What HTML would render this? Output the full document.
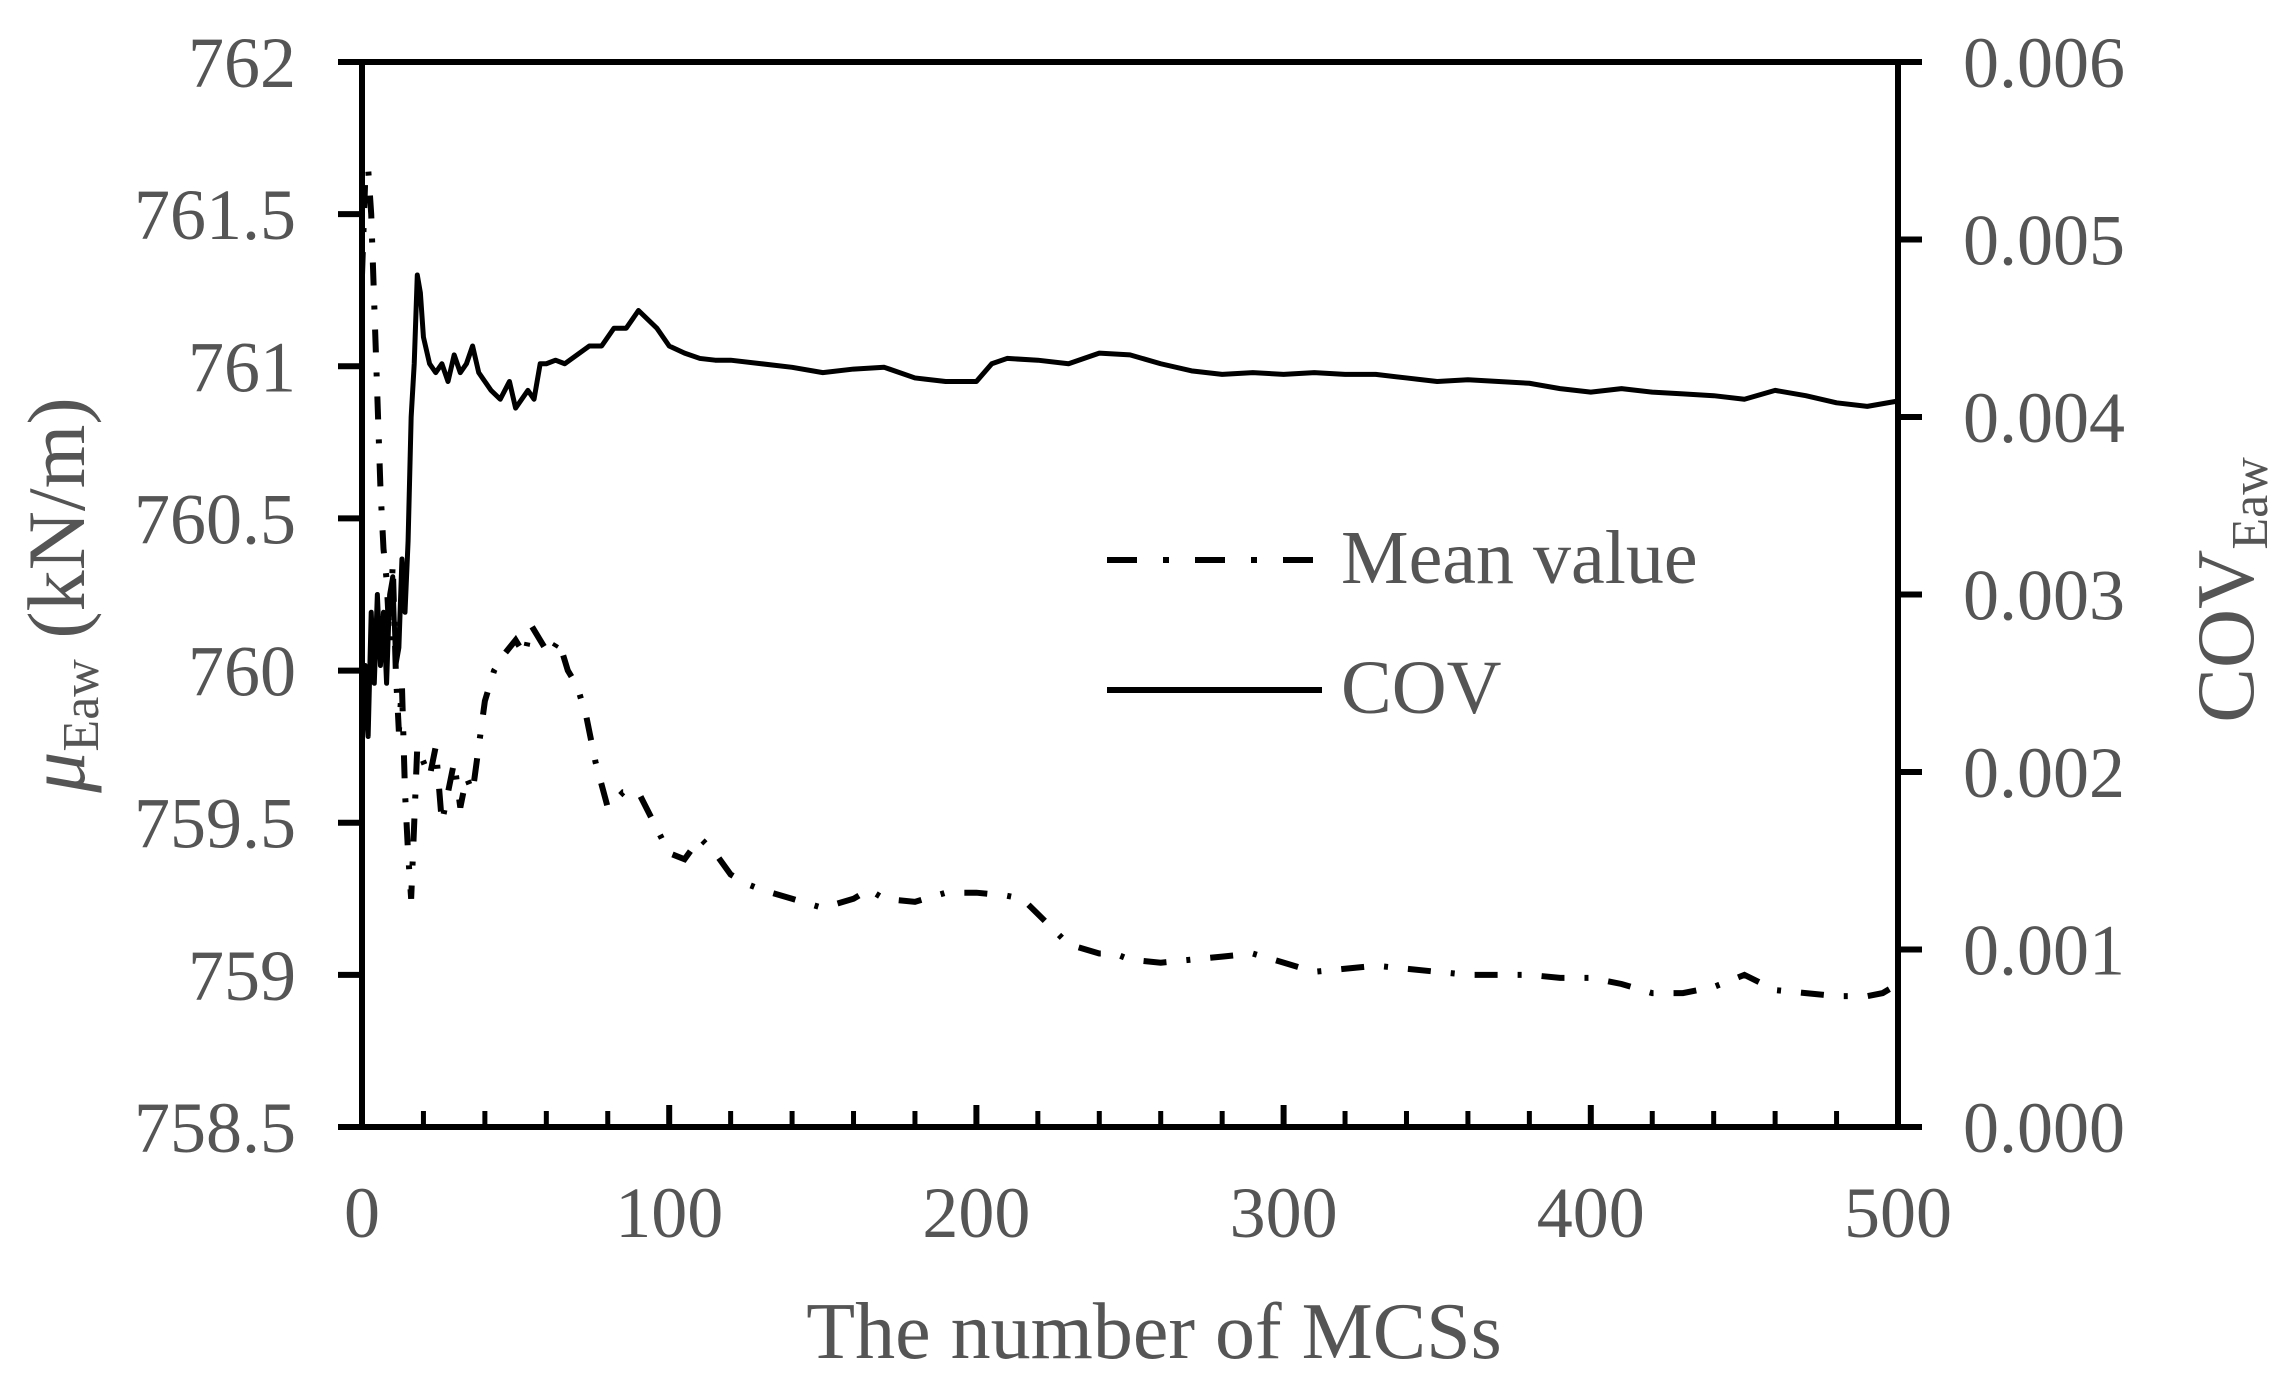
<!DOCTYPE html>
<html><head><meta charset="utf-8"><style>
body{margin:0;background:#fff;}
svg text{font-family:"Liberation Serif",serif;fill:#555;}
</style></head><body>
<svg id="chart" width="2291" height="1390" viewBox="0 0 2291 1390" xmlns="http://www.w3.org/2000/svg">
<g id="axes"></g>
<g id="series"></g>
<g>
  <line x1="1107" y1="560" x2="1322" y2="560" stroke="#000" stroke-width="6" stroke-dasharray="30 26 6 26"/>
  <text x="1341" y="583" font-size="76">Mean value</text>
  <line x1="1107" y1="690" x2="1322" y2="690" stroke="#000" stroke-width="6"/>
  <text x="1341" y="713" font-size="76">COV</text>
</g>
<text x="1154" y="1358" font-size="80" text-anchor="middle">The number of MCSs</text>
<text transform="translate(84,595) rotate(-90)" font-size="82" text-anchor="middle"><tspan font-style="italic">μ</tspan><tspan font-size="52" dy="14">Eaw</tspan><tspan dy="-14"> (kN/m)</tspan></text>
<text transform="translate(2253,590) rotate(-90)" font-size="82" text-anchor="middle">COV<tspan font-size="52" dy="14">Eaw</tspan></text>
</svg>
<script>
const xTicks=[0,100,200,300,400,500];
const leftTicks=[758.5,759,759.5,760,760.5,761,761.5,762];
const leftTickLabels=["758.5","759","759.5","760","760.5","761","761.5","762"];
const rightTicks=[0,0.001,0.002,0.003,0.004,0.005,0.006];
const rightTickLabels=["0.000","0.001","0.002","0.003","0.004","0.005","0.006"];
const meanX=[0,1,2,3,4,5,6,7,8,9,10,11,12,13,14,15,16,17,18,20,22,24,26,28,30,32,34,36,38,40,43,46,50,53,55,58,61,64,67,70,73,76,80,85,90,95,100,105,110,115,120,125,130,140,150,160,165,170,180,190,200,210,215,220,230,240,245,250,260,270,280,290,300,310,320,330,340,350,360,370,380,390,400,410,420,430,440,450,460,470,480,490,495,500];
const meanY=[761.3,761.6,761.65,761.5,761.2,760.9,760.6,760.4,760.3,760.1,760.35,760.0,759.8,759.95,759.6,759.4,759.25,759.5,759.75,759.7,759.65,759.75,759.5,759.6,759.7,759.55,759.65,759.6,759.75,759.9,760.0,760.05,760.1,760.05,760.15,760.1,760.05,760.1,760.0,759.95,759.85,759.7,759.55,759.6,759.6,759.5,759.4,759.38,759.45,759.4,759.33,759.3,759.28,759.25,759.22,759.25,759.28,759.25,759.24,759.27,759.27,759.26,759.25,759.2,759.1,759.07,759.07,759.05,759.04,759.05,759.06,759.07,759.04,759.01,759.02,759.03,759.02,759.01,759.0,759.0,759.0,758.99,758.99,758.97,758.94,758.94,758.96,759.0,758.95,758.94,758.93,758.93,758.94,758.97];
const covX=[0,1,2,3,4,5,6,7,8,9,10,11,12,13,14,15,16,17,18,19,20,22,24,26,28,30,32,34,36,38,40,42,45,48,50,52,54,56,58,60,63,66,70,74,78,82,86,90,93,96,100,105,110,115,120,130,140,150,160,170,180,190,200,205,210,220,230,240,250,260,270,280,290,300,310,320,330,340,350,360,370,380,390,400,410,420,430,440,450,460,470,480,490,500];
const covV=[0.0021,0.0026,0.0022,0.0029,0.0025,0.0030,0.0026,0.0029,0.0025,0.0030,0.0031,0.0026,0.0027,0.0032,0.0029,0.0033,0.0040,0.0043,0.0048,0.0047,0.00445,0.0043,0.00425,0.0043,0.0042,0.00435,0.00425,0.0043,0.0044,0.00425,0.0042,0.00415,0.0041,0.0042,0.00405,0.0041,0.00415,0.0041,0.0043,0.0043,0.00432,0.0043,0.00435,0.0044,0.0044,0.0045,0.0045,0.0046,0.00455,0.0045,0.0044,0.00436,0.00433,0.00432,0.00432,0.0043,0.00428,0.00425,0.00427,0.00428,0.00422,0.0042,0.0042,0.0043,0.00433,0.00432,0.0043,0.00436,0.00435,0.0043,0.00426,0.00424,0.00425,0.00424,0.00425,0.00424,0.00424,0.00422,0.0042,0.00421,0.0042,0.00419,0.00416,0.00414,0.00416,0.00414,0.00413,0.00412,0.0041,0.00415,0.00412,0.00408,0.00406,0.00409];

const L=362,R=1898,T=62,B=1127;
const xS=v=>L+(v-0)/(500-0)*(R-L);
const yL=v=>B-(v-758.5)/(762-758.5)*(B-T);
const yR=v=>B-(v-0)/(0.006-0)*(B-T);
const NS="http://www.w3.org/2000/svg";
const axes=document.getElementById('axes'),series=document.getElementById('series');
function mk(tag,attrs,parent){const e=document.createElementNS(NS,tag);for(const k in attrs)e.setAttribute(k,attrs[k]);parent.appendChild(e);return e;}

let e=mk('rect',{x:L,y:T,width:R-L,height:B-T,fill:'none',stroke:'#000','stroke-width':6},axes);


for(let v=0;v<=500;v+=20){
  const major=v%100===0;
  e=mk('line',{x1:xS(v),x2:xS(v),y1:B,y2:B-(major?22:16),stroke:'#000','stroke-width':major?6:5},axes);
  
  
}
xTicks.forEach(v=>{
  e=mk('text',{x:xS(v),y:1237,'font-size':72,'text-anchor':'middle'},axes);e.textContent=String(v);
  
  
});
leftTicks.forEach((v,i)=>{
  e=mk('line',{x1:L-24,x2:L,y1:yL(v),y2:yL(v),stroke:'#000','stroke-width':6},axes);
  
  
  e=mk('text',{x:296,y:yL(v)+25,'font-size':72,'text-anchor':'end'},axes);e.textContent=leftTickLabels[i];
  
  
});
rightTicks.forEach((v,i)=>{
  e=mk('line',{x1:R,x2:R+24,y1:yR(v),y2:yR(v),stroke:'#000','stroke-width':6},axes);
  
  
  e=mk('text',{x:1963,y:yR(v)+25,'font-size':72},axes);e.textContent=rightTickLabels[i];
  
  
});
e=mk('polyline',{points:meanX.map((x,i)=>xS(x)+','+yL(meanY[i])).join(' '),fill:'none',stroke:'#000','stroke-width':6,'stroke-dasharray':'23 20 4 20'},series);


e=mk('polyline',{points:covX.map((x,i)=>xS(x)+','+yR(covV[i])).join(' '),fill:'none',stroke:'#000','stroke-width':5,'stroke-linejoin':'round'},series);


</script>
</body></html>
